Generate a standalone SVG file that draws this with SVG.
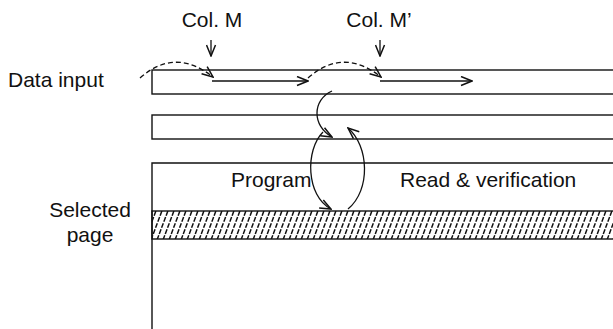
<svg xmlns="http://www.w3.org/2000/svg" width="613" height="329" viewBox="0 0 613 329">
<style>
.t{font-family:"Liberation Sans",Arial,sans-serif;font-size:21px;fill:#111}
.s{fill:none;stroke:#111;stroke-width:1.4}
.c{fill:none;stroke:#111;stroke-width:1.3}
.d{fill:none;stroke:#111;stroke-width:1.3;stroke-dasharray:5 3}
</style>
<defs>
<marker id="ah" markerWidth="13" markerHeight="11" refX="12" refY="5.5" orient="auto" markerUnits="userSpaceOnUse">
<polyline points="1,1 12,5.5 1,10" fill="none" stroke="#111" stroke-width="1.5"/>
</marker>
<pattern id="hatch" width="6" height="28" patternUnits="userSpaceOnUse" x="152" y="211">
<path d="M-1 29 L11 -3" stroke="#111" stroke-width="1.5" stroke-dasharray="5 1.5"/>
<path d="M-7 29 L5 -3" stroke="#111" stroke-width="1.5" stroke-dasharray="5 1.5"/>
<path d="M5 29 L17 -3" stroke="#111" stroke-width="1.5" stroke-dasharray="5 1.5"/>
</pattern>
</defs>
<g id="labels">
<text class="t" x="8" y="87">Data input</text>
<text class="t" x="90" y="217" text-anchor="middle">Selected</text>
<text class="t" x="90" y="242" text-anchor="middle">page</text>
<text class="t" x="212" y="27" text-anchor="middle">Col. M</text>
<text class="t" x="379" y="27" text-anchor="middle">Col. M’</text>
<text class="t" x="231" y="187">Program</text>
<text class="t" x="400" y="187">Read &amp; verification</text>
</g>
<g id="register1"><rect class="s" x="152" y="70" width="470" height="24"/></g>
<g id="register2"><rect class="s" x="152" y="115" width="470" height="24"/></g>
<g id="array">
<path class="s" d="M613 163 H152 V329"/>
<rect x="152" y="211" width="470" height="28" fill="url(#hatch)" stroke="#111" stroke-width="1.4"/>
</g>
<g id="connectors">
<line class="c" x1="211" y1="40" x2="211" y2="56" marker-end="url(#ah)"/>
<line class="c" x1="380" y1="40" x2="380" y2="56" marker-end="url(#ah)"/>
<line class="c" x1="212" y1="81" x2="308" y2="81" marker-end="url(#ah)"/>
<line class="c" x1="380" y1="81" x2="472" y2="81" marker-end="url(#ah)"/>
<path class="d" d="M140 78 Q175 47 213 77" marker-end="url(#ah)"/>
<path class="d" d="M308 78 Q343 47 381 77" marker-end="url(#ah)"/>
<path class="c" d="M332 91 C312 100 312 126 332 137" marker-end="url(#ah)"/>
<path class="c" d="M323 132 C305 150 306 196 331 209" marker-end="url(#ah)"/>
<path class="c" d="M348 209 C371 190 369 146 348 128" marker-end="url(#ah)"/>
</g>
</svg>
